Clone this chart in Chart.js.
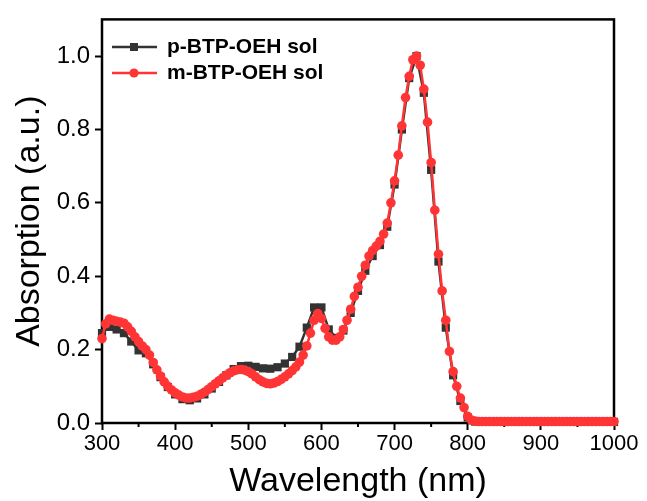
<!DOCTYPE html>
<html>
<head>
<meta charset="utf-8">
<script src="https://cdn.jsdelivr.net/npm/chart.js@4.4.1/dist/chart.umd.min.js"></script>
<style>
  body { margin: 0; background: #fff; }
  canvas { display: block; }
</style>
</head>
<body>
<canvas id="myChart" width="647" height="501"></canvas>
<script>
// p-BTP-OEH sol, every 10 nm
var pX = [300, 310, 320, 330, 340, 350, 360, 370, 380, 390,
          400, 410, 420, 430, 440, 450, 460, 470, 480, 490,
          500, 510, 520, 530, 540, 550, 560, 570, 580, 590,
          600, 610, 620, 630, 640, 650, 660, 670, 680, 690,
          700, 710, 720, 730, 740, 750, 760, 770, 780, 790,
          800, 810, 820, 830, 840, 850, 860, 870, 880, 890,
          900, 910, 920, 930, 940, 950, 960, 970, 980, 990, 1000];
var pY = [0.245, 0.262, 0.255, 0.245, 0.222, 0.198, 0.19, 0.16, 0.125, 0.098,
          0.078, 0.065, 0.062, 0.067, 0.078, 0.094, 0.112, 0.13, 0.147, 0.155,
          0.156, 0.153, 0.149, 0.148, 0.152, 0.162, 0.18, 0.208, 0.26, 0.315,
          0.315, 0.255, 0.232, 0.252, 0.3, 0.36, 0.415, 0.455, 0.485, 0.535,
          0.65, 0.8, 0.94, 1.0, 0.9, 0.69, 0.44, 0.26, 0.13, 0.06,
          0.015, 0.004, 0.003, 0.003, 0.003, 0.003, 0.003, 0.003, 0.003, 0.003,
          0.003, 0.003, 0.003, 0.003, 0.003, 0.003, 0.003, 0.003, 0.003, 0.003, 0.003];

// m-BTP-OEH sol, every 5 nm
var mX = [300, 305, 310, 315, 320, 325, 330, 335, 340, 345,
          350, 355, 360, 365, 370, 375, 380, 385, 390, 395,
          400, 405, 410, 415, 420, 425, 430, 435, 440, 445,
          450, 455, 460, 465, 470, 475, 480, 485, 490, 495,
          500, 505, 510, 515, 520, 525, 530, 535, 540, 545,
          550, 555, 560, 565, 570, 575, 580, 585, 590, 595,
          600, 605, 610, 615, 620, 625, 630, 635, 640, 645,
          650, 655, 660, 665, 670, 675, 680, 685, 690, 695,
          700, 705, 710, 715, 720, 725, 730, 735, 740, 745,
          750, 755, 760, 765, 770, 775, 780, 785, 790, 795,
          800, 805, 810, 815, 820, 825, 830, 835, 840, 845,
          850, 855, 860, 865, 870, 875, 880, 885, 890, 895,
          900, 905, 910, 915, 920, 925, 930, 935, 940, 945,
          950, 955, 960, 965, 970, 975, 980, 985, 990, 995, 1000];
var mY = [0.23, 0.27, 0.283, 0.28, 0.277, 0.275, 0.272, 0.262, 0.25, 0.235,
          0.222, 0.21, 0.2, 0.185, 0.165, 0.145, 0.128, 0.112, 0.1, 0.09,
          0.082, 0.076, 0.071, 0.068, 0.068, 0.07, 0.073, 0.078, 0.084, 0.091,
          0.099, 0.107, 0.115, 0.123, 0.13, 0.137, 0.142, 0.145, 0.146, 0.144,
          0.14, 0.134, 0.126, 0.118, 0.112, 0.108, 0.107, 0.109, 0.113, 0.119,
          0.126, 0.134, 0.143, 0.153, 0.166, 0.185, 0.21, 0.245, 0.28, 0.298,
          0.285, 0.258, 0.235, 0.226, 0.226, 0.235, 0.255, 0.28, 0.31, 0.345,
          0.37, 0.4, 0.43, 0.455, 0.47, 0.482, 0.495, 0.515, 0.545, 0.6,
          0.66, 0.73, 0.81, 0.887, 0.945, 0.99, 1.0, 0.975, 0.91, 0.82,
          0.71, 0.58, 0.46, 0.36, 0.28, 0.195, 0.14, 0.1, 0.068, 0.042,
          0.018, 0.008, 0.005, 0.004, 0.004, 0.004, 0.004, 0.004, 0.004, 0.004,
          0.004, 0.004, 0.004, 0.004, 0.004, 0.004, 0.004, 0.004, 0.004, 0.004,
          0.004, 0.004, 0.004, 0.004, 0.004, 0.004, 0.004, 0.004, 0.004, 0.004,
          0.004, 0.004, 0.004, 0.004, 0.004, 0.004, 0.004, 0.004, 0.004, 0.004, 0.004];

var seriesNames = ["p-BTP-OEH sol", "m-BTP-OEH sol"];
var seriesColors = ["#333333", "#ff3535"];
var minorTicksX = [350, 450, 550, 650, 750, 850, 950];

var fontFamily = "'Liberation Sans', Arial, sans-serif";

function toPoints(xs, ys) {
    return xs.map(function (x, i) { return { x: x, y: ys[i] }; });
}

// frame + minor ticks under the data, legend on top
var framePlugin = {
    id: "frame",
    beforeDatasetsDraw: function (chart) {
        var ctx = chart.ctx, a = chart.chartArea, x = chart.scales.x;
        ctx.save();
        ctx.strokeStyle = "#000";
        ctx.lineWidth = 2.5;
        ctx.strokeRect(a.left, a.top, a.right - a.left, a.bottom - a.top);
        ctx.lineWidth = 2;
        minorTicksX.forEach(function (v) {
            var px = x.getPixelForValue(v);
            ctx.beginPath();
            ctx.moveTo(px, a.bottom);
            ctx.lineTo(px, a.bottom + 4);
            ctx.stroke();
        });
        ctx.restore();
    },
    afterDraw: function (chart) {
        var ctx = chart.ctx;
        ctx.save();
        ctx.font = "bold 21px " + fontFamily;
        ctx.textBaseline = "middle";
        var rows = [47, 73];
        seriesNames.forEach(function (name, i) {
            var y = rows[i];
            ctx.strokeStyle = seriesColors[i];
            ctx.fillStyle = seriesColors[i];
            ctx.lineWidth = 2.5;
            ctx.beginPath();
            ctx.moveTo(112, y);
            ctx.lineTo(157, y);
            ctx.stroke();
            if (i === 0) {
                ctx.fillRect(130, y - 4, 8, 8);
            } else {
                ctx.beginPath();
                ctx.arc(134, y, 4.6, 0, Math.PI * 2);
                ctx.fill();
            }
            ctx.fillStyle = "#000";
            ctx.fillText(name, 167, y);
        });
        ctx.restore();
    }
};

new Chart("myChart", {
    type: "line",
    data: {
        datasets: [{
            label: seriesNames[0],
            data: toPoints(pX, pY),
            borderColor: seriesColors[0],
            backgroundColor: seriesColors[0],
            borderWidth: 2.5,
            pointStyle: "rect",
            pointRadius: 5.8,
            pointBorderWidth: 0,
            tension: 0,
            clip: false,
            order: 2
        }, {
            label: seriesNames[1],
            data: toPoints(mX, mY),
            borderColor: seriesColors[1],
            backgroundColor: seriesColors[1],
            borderWidth: 2.5,
            pointStyle: "circle",
            pointRadius: 4.8,
            pointBorderWidth: 0,
            tension: 0,
            clip: false,
            order: 1
        }]
    },
    options: {
        responsive: false,
        animation: false,
        layout: { padding: { left: 0, right: 33, top: 14, bottom: 0 } },
        plugins: {
            legend: { display: false },
            tooltip: { enabled: false }
        },
        scales: {
            x: {
                type: "linear",
                min: 300,
                max: 1000,
                ticks: {
                    stepSize: 100,
                    color: "#000",
                    padding: 1,
                    font: { family: fontFamily, size: 22 },
                    callback: function (v) { return String(v); }
                },
                grid: { drawOnChartArea: false, tickLength: 7, tickWidth: 2, tickColor: "#000" },
                border: { display: false },
                title: {
                    display: true,
                    text: "Wavelength (nm)",
                    color: "#000",
                    font: { family: fontFamily, size: 34 },
                    padding: { top: 0, bottom: -1 }
                },
                afterFit: function (scale) { scale.height = 78; }
            },
            y: {
                min: 0,
                max: 1.1,
                ticks: {
                    stepSize: 0.2,
                    color: "#000",
                    padding: 5,
                    font: { family: fontFamily, size: 24 },
                    callback: function (v) { return v.toFixed(1); }
                },
                afterBuildTicks: function (scale) {
                    scale.ticks = scale.ticks.filter(function (t) { return t.value <= 1.0001; });
                },
                grid: { drawOnChartArea: false, tickLength: 7, tickWidth: 2, tickColor: "#000" },
                border: { display: false },
                title: {
                    display: true,
                    text: "Absorption (a.u.)",
                    color: "#000",
                    font: { family: fontFamily, size: 34 },
                    padding: { top: 9, bottom: 0 }
                },
                afterFit: function (scale) { scale.width = 102; }
            }
        }
    },
    plugins: [framePlugin]
});
</script>
</body>
</html>
